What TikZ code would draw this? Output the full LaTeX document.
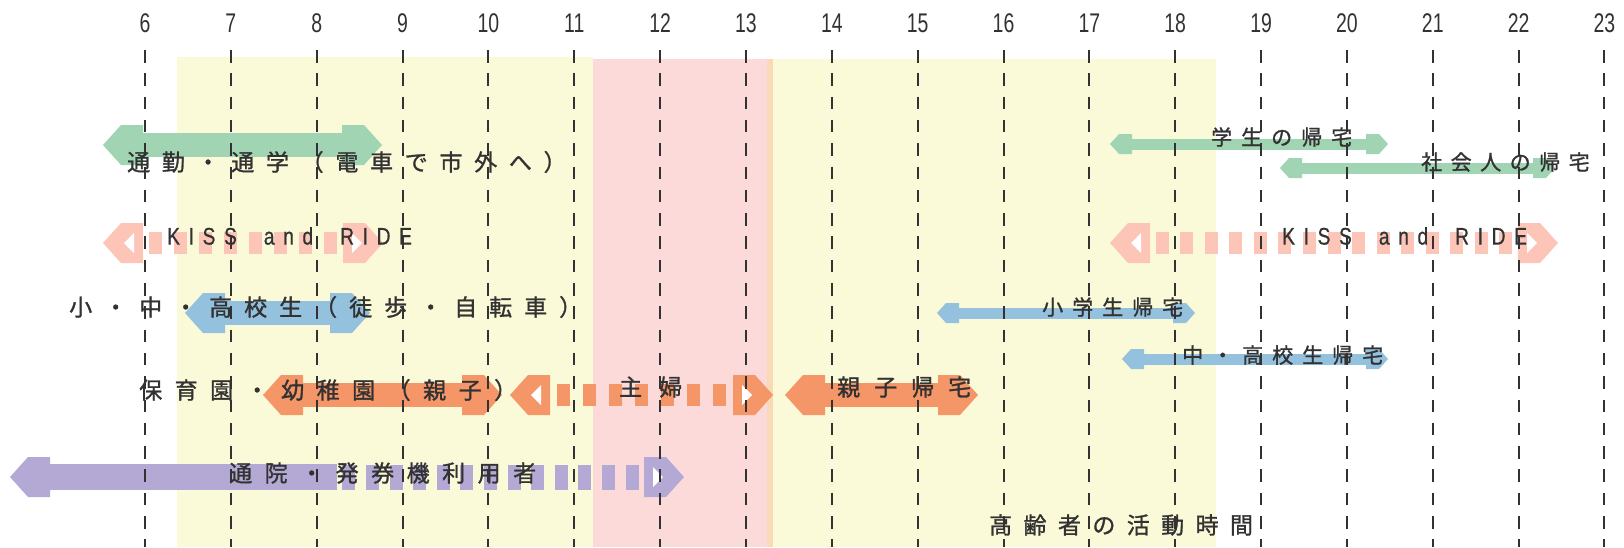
\documentclass[tikz,border=0pt]{standalone}
\usepackage{fontspec}
\setmainfont{Liberation Sans}
\newfontfamily\jp[FakeBold=1.2]{Noto Sans CJK JP}
\newfontfamily\numf[FakeStretch=0.72]{Liberation Sans}
\newfontfamily\latf[FakeStretch=0.8,LetterSpace=36,FakeBold=0.6]{Liberation Sans}
\definecolor{agreen}{RGB}{160,212,178}
\definecolor{kpink}{RGB}{253,197,183}
\definecolor{ablue}{RGB}{148,193,222}
\definecolor{aorange}{RGB}{245,150,104}
\definecolor{apurple}{RGB}{180,168,212}
\definecolor{ybg}{RGB}{251,250,216}
\definecolor{pbg}{RGB}{252,218,218}
\definecolor{sbg}{RGB}{250,218,180}
\definecolor{txt}{RGB}{50,50,50}
\newlength\ptw
\newcommand\pitchtext[2]{\setlength\ptw{#1}\ptloop#2\relax}
\def\ptloop#1{\ifx#1\relax\else\makebox[\ptw][l]{#1}\expandafter\ptloop\fi}
% arrow pieces: coordinates in px, y downwards
\newcommand\headL[5]{\fill ({#1},{#2}) -- ({#1+#5},{#2-#3}) -- ({#1+#4},{#2-#3}) -- ({#1+#4},{#2+#3}) -- ({#1+#5},{#2+#3}) -- cycle;}
\newcommand\headR[5]{\fill ({#1},{#2}) -- ({#1-#5},{#2-#3}) -- ({#1-#4},{#2-#3}) -- ({#1-#4},{#2+#3}) -- ({#1-#5},{#2+#3}) -- cycle;}
\newcommand\notchL[2]{\fill[white] ({#1+21},{#2}) -- ({#1+31},{#2-10}) -- ({#1+31},{#2+10}) -- cycle;}
\newcommand\notchR[2]{\fill[white] ({#1-21},{#2}) -- ({#1-31},{#2-10}) -- ({#1-31},{#2+10}) -- cycle;}
\newcommand\bodyS[4]{\fill ({#1},{#3-#4}) rectangle ({#2},{#3+#4});}
\newcommand\bodyD[4]{%
  \pgfmathsetmacro\arrlen{(#2)-(#1)}%
  \pgfmathtruncatemacro\arrcnt{round(\arrlen/24.5)}%
  \pgfmathsetmacro\arrpitch{\arrlen/\arrcnt}%
  \foreach \i in {1,...,\arrcnt}{\fill ({#1+(\i-0.5)*\arrpitch-6.5},{#3-#4}) rectangle ({#1+(\i-0.5)*\arrpitch+6.5},{#3+#4});}}
\newcommand\arrS[4]{\begin{scope}[fill=#4]\headL{#1}{#3}{20}{40}{18}\headR{#2}{#3}{20}{40}{18}\bodyS{#1+39}{#2-39}{#3}{12}\end{scope}}
\newcommand\arrD[4]{\begin{scope}[fill=#4]\headL{#1}{#3}{20}{40}{18}\headR{#2}{#3}{20}{40}{18}\bodyD{#1+40}{#2-40}{#3}{11}\notchL{#1}{#3}\notchR{#2}{#3}\end{scope}}
\newcommand\arrT[4]{\begin{scope}[fill=#4]\headL{#1}{#3}{10}{22}{9}\headR{#2}{#3}{10}{22}{9}\bodyS{#1+21}{#2-21}{#3}{5.5}\end{scope}}
\newcommand\kisstext{KISS\hspace{27pt}and\hspace{27pt}RIDE}
\tikzset{
  hr/.style={font={\numf\fontsize{27}{27}\selectfont}, text=txt, inner sep=0pt},
  jl/.style={font={\jp\fontsize{23}{23}\selectfont}, text=txt, inner sep=0pt, anchor=west},
  js/.style={font={\jp\fontsize{21}{21}\selectfont}, text=txt, inner sep=0pt, anchor=west},
  kr/.style={font={\latf\fontsize{24}{24}\selectfont}, text=txt, inner sep=0pt, anchor=west},
  vline/.style={draw=txt, line width=2pt, dash pattern=on 12.5pt off 10.8pt},
}
\begin{document}
\begin{tikzpicture}[x=1pt,y=-1pt]
\useasboundingbox (0,0) rectangle (1624,547);
% backgrounds
\fill[ybg] (177,57) rectangle (593,547);
\fill[pbg] (593,59) rectangle (767,547);
\fill[sbg] (767,59) rectangle (773,547);
\fill[ybg] (773,59) rectangle (1216,547);
% arrows
\arrS{103}{382}{145}{agreen}
\arrD{103}{383}{243}{kpink}
\arrS{185}{370}{313}{ablue}
\arrS{263}{502}{395}{aorange}
\arrD{510}{773}{395}{aorange}
\arrS{785}{978}{395}{aorange}
\begin{scope}[fill=apurple]
  \headL{10}{477}{20}{40}{18}
  \bodyS{49}{337}{477}{13}
  \bodyD{337}{644}{477}{12.5}
  \headR{684}{477}{20}{40}{18}
  \notchR{684}{477}
\end{scope}
\arrD{1110}{1558}{243}{kpink}
\arrT{1110}{1388}{144}{agreen}
\arrT{1280}{1555}{168}{agreen}
\arrT{937}{1195}{313}{ablue}
\arrT{1122}{1388}{359}{ablue}
% hour labels and dashed lines
\foreach \h in {6,...,23}{
  \pgfmathsetmacro\hx{145+85.85*(\h-6)}
  \node[hr] (h\h) at (\hx,23) {\h};
  \coordinate (b\h) at (\hx,547);
  \draw[vline] (h\h.south |- 0,50) -- (b\h);
}
% labels
\node[jl] (t1) at (127,162) {\pitchtext{34.7pt}{通勤・通学（電車で市外へ）}};
\node[kr] (t2) at (167,236) {\kisstext};
\node[jl] (t3) at (69,307) {\pitchtext{35pt}{小・中・高校生（徒歩・自転車）}};
\node[jl] (t4) at (139,390) {\pitchtext{35.5pt}{保育園・幼稚園（親子）}};
\node[jl] (t5) at (619,387) {\pitchtext{40pt}{主婦}};
\node[jl] (t6) at (837,387) {\pitchtext{37pt}{親子帰宅}};
\node[jl] (t7) at (229,473) {\pitchtext{35.5pt}{通院・発券機利用者}};
\node[js] (t8) at (1211,137) {\pitchtext{30pt}{学生の帰宅}};
\node[js] (t9) at (1421,162) {\pitchtext{29.5pt}{社会人の帰宅}};
\node[kr] (t10) at (1282,236) {\kisstext};
\node[js] (t11) at (1042,307) {\pitchtext{30pt}{小学生帰宅}};
\node[js] (t12) at (1182,355) {\pitchtext{30pt}{中・高校生帰宅}};
\node[jl] (t13) at (989,525) {\pitchtext{34.4pt}{高齢者の活動時間}};
\end{tikzpicture}
\end{document}
